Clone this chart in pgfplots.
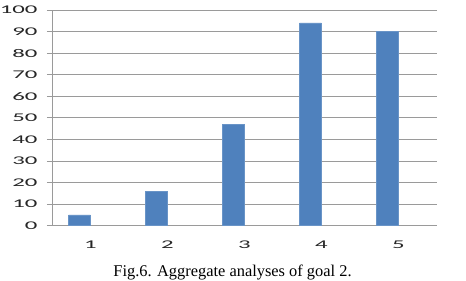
\documentclass[border=0pt]{standalone}
\usepackage{pgfplots}
\pgfplotsset{compat=1.18}
\usepackage{fontspec}
\setmainfont{Liberation Serif}
\newfontfamily\labfont{Carlito}
\definecolor{barblue}{HTML}{4F81BD}
\definecolor{gridgray}{HTML}{9A9A9A}
\newcommand{\lab}[1]{\scalebox{2.1}[1]{\labfont\fontsize{11.8}{11.8}\selectfont #1}}
\begin{document}
\begin{tikzpicture}[x=1pt,y=1pt]
\path[use as bounding box] (0,0) rectangle (466,281);
\begin{axis}[
  at={(52pt,55.3pt)}, anchor=south west,
  scale only axis, width=385pt, height=215.7pt,
  xmin=0.5, xmax=5.5, ymin=0, ymax=100,
  ytick={0,10,...,100},
  yticklabels={\lab{0},\lab{10},\lab{20},\lab{30},\lab{40},\lab{50},\lab{60},\lab{70},\lab{80},\lab{90},\lab{100}},
  xtick={1,2,3,4,5},
  xticklabels={\lab{1},\lab{2},\lab{3},\lab{4},\lab{5}},
  extra x ticks={0.5,1.5,2.5,3.5,4.5,5.5},
  extra x tick labels={},
  extra x tick style={major tick length=5pt, tick style={gridgray, line width=0.8pt}, tick pos=bottom, xtick align=outside, grid=none},
  major x tick style={draw=none},
  ytick align=outside, ytick pos=left,
  major y tick style={gridgray, line width=0.8pt},
  major tick length=5pt,
  ymajorgrids, grid style={gridgray, line width=0.8pt},
  axis x line*=bottom, axis y line*=left,
  axis line style={gridgray, line width=0.8pt, -},
  ybar, bar width=21.7pt, bar shift=-11pt,
  yticklabel style={text=black!85, xshift=-6pt},
  xticklabel style={text=black!85, yshift=-6.5pt},
  clip=false,
]
\addplot[fill=barblue, draw=barblue!85!white] coordinates {(1,5) (2,16) (3,47) (4,94) (5,90)};
\end{axis}
\node at (232.5,9) {\fontsize{16.4}{16.4}\selectfont Fig.6. Aggregate analyses of goal 2.};
\end{tikzpicture}
\end{document}
